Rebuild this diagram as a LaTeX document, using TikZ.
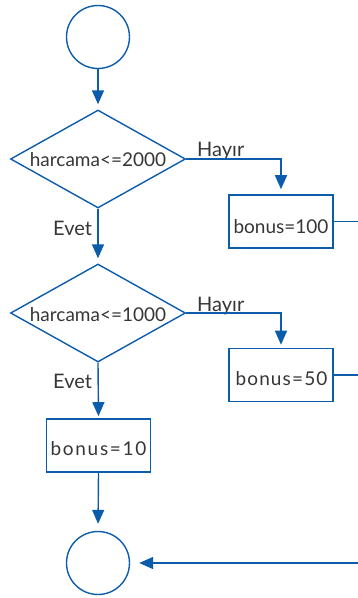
\documentclass[tikz,border=0pt]{standalone}
\usepackage{fontspec}
\setmainfont{Lato}
\usetikzlibrary{shapes.geometric,arrows.meta}
\definecolor{fcblue}{HTML}{0B5CAB}
\definecolor{fctext}{HTML}{363636}
\begin{document}
\begin{tikzpicture}[x=1pt,y=-1pt,
  line/.style={draw=fcblue,line width=1.4pt},
  arr/.style={line,-{Triangle[width=12pt,length=14pt]}},
  term/.style={circle,draw=fcblue,line width=1.4pt,minimum size=63pt,inner sep=0},
  dec/.style={diamond,draw=fcblue,line width=1.4pt,minimum width=175pt,minimum height=98pt,inner sep=0},
  proc/.style={rectangle,draw=fcblue,line width=1.6pt,minimum width=104pt,minimum height=53pt,inner sep=0},
  txt/.style={text=fctext,font=\fontsize{19}{21}\selectfont,inner sep=0,anchor=base},
  lbl/.style={text=fctext,font=\fontsize{20}{22}\selectfont,inner sep=0,anchor=base west}]
\useasboundingbox (0,0) rectangle (357,598);
\node[term] (start) at (98,37) {};
\node[dec] (d1) at (98,159) {};
\node[txt] (t1) at (98,166.5) {harcama<=2000};
\node[proc] (b1) at (281,221.5) {};
\node[txt] (tb1) at (281,233.5) {bonus=100};
\node[dec] (d2) at (98,313) {};
\node[txt] (t2) at (98,321) {harcama<=1000};
\node[proc] (b2) at (281,375) {};
\node[txt] (tb2) at (281.5,385) {\addfontfeatures{LetterSpace=6}bonus=50};
\node[proc] (b3) at (98.5,445.5) {};
\node[txt] (tb3) at (98.5,455.5) {\addfontfeatures{LetterSpace=9}bonus=10};
\node[term] (stop) at (98,563) {};
\coordinate (rc) at (365,563);
\node[lbl] (h1) at (197,156.5) {Hayır};
\node[lbl] (e1) at (53,235) {Evet};
\node[lbl] (h2) at (197,311.5) {Hayır};
\node[lbl] (e2) at (53,388) {Evet};
\draw[arr,shorten >=5pt] (start) -- (d1);
\draw[arr,shorten >=5pt] (d1.east) -| (b1.north);
\draw[arr,shorten >=5pt] (d1.south) -- (d2.north);
\draw[arr,shorten >=3pt] (d2.east) -| (b2.north);
\draw[arr,shorten >=2pt] (d2.south) -- (b3.north);
\draw[arr,shorten >=7pt] (b3.south) -- (stop.north);
\draw[line] (b1.east) -| (rc);
\draw[line] (b2.east) -- (b2.east -| rc);
\draw[arr,shorten >=9pt] (rc) -- (stop.east);
\end{tikzpicture}
\end{document}
